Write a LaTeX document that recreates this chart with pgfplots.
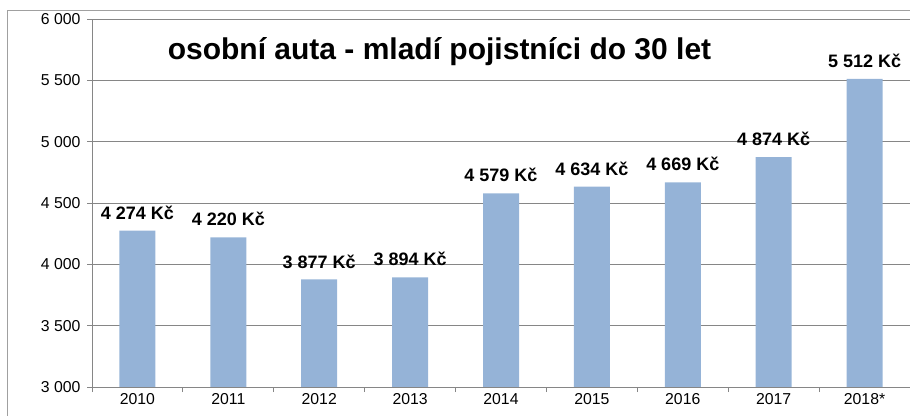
\documentclass[border=0pt]{standalone}
\usepackage{fontspec}
\setmainfont{Liberation Sans}
\usepackage{pgfplots}
\pgfplotsset{compat=1.18}
\definecolor{barblue}{RGB}{149,179,215}
\definecolor{gridgray}{RGB}{134,134,134}
\definecolor{framegray}{RGB}{160,160,160}
\begin{document}
\begin{tikzpicture}
\path[use as bounding box] (-92bp,-29bp) rectangle (818bp,387bp);
\draw[framegray, line width=1bp] (-84bp,-40bp) -- (-84bp,376bp) -- (830bp,376bp);
\begin{axis}[
  scale only axis,
  width=818bp, height=368bp,
  xmin=-0.5, xmax=8.5,
  ymin=3000, ymax=6000,
  ytick={3000,3500,...,6000},
  xtick={-0.5,0.5,...,8.5},
  xticklabels={},
  extra x ticks={0,1,2,3,4,5,6,7,8},
  extra x tick labels={2010,2011,2012,2013,2014,2015,2016,2017,2018*},
  extra x tick style={major tick length=0pt, xticklabel style={yshift=-3bp}},
  axis x line*=bottom, axis y line*=left,
  axis line style={gridgray, line width=0.8bp},
  tick style={gridgray, line width=0.8bp},
  major tick length=5bp,
  tick align=outside,
  ymajorgrids,
  major grid style={gridgray, line width=0.8bp},
  scaled y ticks=false,
  /pgf/number format/.cd, 1000 sep={\ }, assume math mode=true, /pgfplots/.cd,
  ticklabel style={font=\fontsize{15.8bp}{18bp}\selectfont, text=black},
  yticklabel style={xshift=-3bp},
  ybar, bar width=36bp,
  point meta=explicit symbolic,
  nodes near coords,
  every node near coord/.append style={font=\bfseries\fontsize{18bp}{20bp}\selectfont, anchor=south, inner sep=0pt, yshift=11bp},
  clip=false,
]
\addplot[fill=barblue, draw=none] coordinates {
  (0,4274) [4 274 Kč]
  (1,4220) [4 220 Kč]
  (2,3877) [3 877 Kč]
  (3,3894) [3 894 Kč]
  (4,4579) [4 579 Kč]
  (5,4634) [4 634 Kč]
  (6,4669) [4 669 Kč]
  (7,4874) [4 874 Kč]
  (8,5512) [5 512 Kč]
};
\node[anchor=base, font=\bfseries\fontsize{30bp}{34bp}\selectfont] at (rel axis cs:0.4248,0.8886) {osobní auta - mladí pojistníci do 30 let};
\end{axis}
\end{tikzpicture}
\end{document}
